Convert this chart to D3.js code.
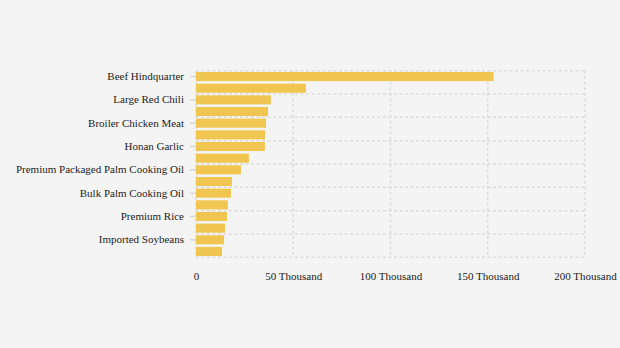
<!DOCTYPE html>
<html>
<head>
<meta charset="utf-8">
<script src="https://cdn.jsdelivr.net/npm/d3@7"></script>
<style>
  html, body { margin: 0; padding: 0; background: #f4f4f4; }
  svg { display: block; }
</style>
</head>
<body>
<svg id="chart" width="620" height="348"></svg>
<script>
// Commodities ranked by value
const categories = [
  "Beef Hindquarter",
  "Beef Forequarter",
  "Large Red Chili",
  "Bird's Eye Chili",
  "Broiler Chicken Meat",
  "Shallots",
  "Honan Garlic",
  "Chicken Eggs",
  "Premium Packaged Palm Cooking Oil",
  "Simple Packaged Palm Cooking Oil",
  "Bulk Palm Cooking Oil",
  "Granulated Sugar",
  "Premium Rice",
  "Medium Rice",
  "Imported Soybeans",
  "Lower Quality Rice"
];
const values = [153000, 56500, 38500, 37000, 36000, 35500, 35400, 27200, 23100, 18500, 18000, 16400, 15900, 14900, 14400, 13400];
const xTicks = [0, 50000, 100000, 150000, 200000];
const xTickLabels = ["0", "50 Thousand", "100 Thousand", "150 Thousand", "200 Thousand"];

const FONT = "'Liberation Serif', 'Times New Roman', Times, serif";
const svg = d3.select("#chart");
const margin = { left: 196, right: 35, top: 70.7, bottom: 90.7 };
const W = 620, H = 348;

const x = d3.scaleLinear().domain([0, 200000]).range([margin.left, W - margin.right]);
const y = d3.scaleBand().domain(categories).range([margin.top, H - margin.bottom]).paddingInner(0.22).paddingOuter(0.11);

const gridColor = "#dcdcdc";

// Horizontal grid lines between every second category
const step = y.step();
const hLines = d3.range(0, categories.length + 1, 2).map(i => margin.top + i * step);
svg.append("g").selectAll("line").data(hLines).join("line")
  .attr("x1", x(0)).attr("x2", x(200000))
  .attr("y1", d => d).attr("y2", d => d)
  .attr("stroke", gridColor).attr("stroke-width", 1.5).attr("stroke-dasharray", "3,2.5");

// Vertical grid lines at x ticks
svg.append("g").selectAll("line").data(xTicks).join("line")
  .attr("x1", d => x(d)).attr("x2", d => x(d))
  .attr("y1", margin.top).attr("y2", H - margin.bottom)
  .attr("stroke", gridColor).attr("stroke-width", 1.5).attr("stroke-dasharray", "3,2.5");

// Bars
svg.append("g").selectAll("rect").data(categories).join("rect")
  .attr("x", x(0))
  .attr("y", d => y(d))
  .attr("width", (d, i) => x(values[i]) - x(0))
  .attr("height", y.bandwidth())
  .attr("fill", "#f1c650");

// Y axis: every second category labelled
const yAxis = d3.axisLeft(y)
  .tickValues(categories.filter((d, i) => i % 2 === 0))
  .tickSize(6).tickPadding(6);
const gy = svg.append("g").attr("transform", `translate(${x(0)},0)`).call(yAxis);
gy.select(".domain").remove();
gy.selectAll(".tick line").attr("stroke", "#d8d8d8").attr("stroke-width", 1.5);
gy.selectAll(".tick text").style("font-size", "11px").style("font-family", FONT).style("fill", "#222");

// X axis labels
const xAxis = d3.axisBottom(x).tickValues(xTicks)
  .tickFormat((d, i) => xTickLabels[i]).tickSize(0).tickPadding(15);
const gx = svg.append("g").attr("transform", `translate(0,${H - margin.bottom})`).call(xAxis);
gx.select(".domain").remove();
gx.selectAll(".tick text").style("font-size", "11px").style("font-family", FONT).style("fill", "#222");
</script>
</body>
</html>
